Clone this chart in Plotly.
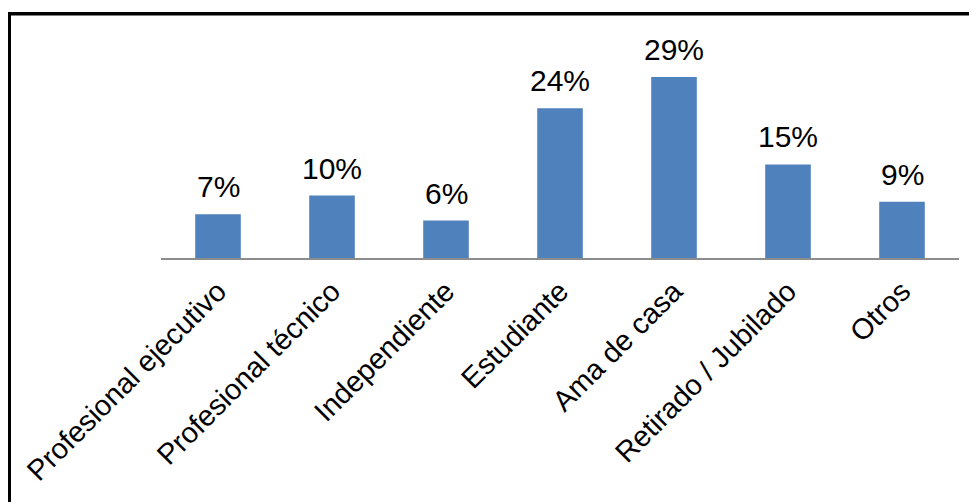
import plotly.graph_objects as go

categories = ["Profesional ejecutivo", "Profesional técnico", "Independiente",
              "Estudiante", "Ama de casa", "Retirado / Jubilado", "Otros"]
values = [7, 10, 6, 24, 29, 15, 9]
labels = ["7%", "10%", "6%", "24%", "29%", "15%", "9%"]

# the page has an 8px body margin, so the figure sits at (8, 8) in the window
W, H = 969, 494
L, R, T, B = 153, 951, 32, 250
pw, ph = R - L, B - T

def px(x):
    return (x - L) / pw

def py(y):
    return (B - y) / ph

FONT = "Arial, Liberation Sans, sans-serif"

fig = go.Figure()
fig.add_trace(go.Bar(
    x=categories, y=values,
    marker=dict(color="#4F81BD", line=dict(width=0)),
))

for c, v, t in zip(categories, values, labels):
    fig.add_annotation(x=c, y=v, text=t, showarrow=False, yanchor="bottom",
                       yshift=9, font=dict(family=FONT, size=30, color="#000000"))

# outer border (left and top)
fig.add_shape(type="rect", xref="paper", yref="paper",
              x0=px(-3), x1=px(3), y0=py(510), y1=py(4),
              fillcolor="#000000", line=dict(width=0), layer="above")
fig.add_shape(type="rect", xref="paper", yref="paper",
              x0=px(-3), x1=px(980), y0=py(7.5), y1=py(4),
              fillcolor="#000000", line=dict(width=0), layer="above")

fig.update_layout(
    width=W, height=H,
    margin=dict(l=L, r=W - R, t=T, b=H - B, pad=0),
    paper_bgcolor="#FFFFFF", plot_bgcolor="#FFFFFF",
    bargap=0.6, showlegend=False,
    font=dict(family=FONT, size=30, color="#000000"),
    xaxis=dict(showline=True, linecolor="#8C8C8C", linewidth=1.5,
               ticks="", tickangle=-45, ticklabelstandoff=3,
               tickfont=dict(family=FONT, size=29, color="#000000"),
               showgrid=False, zeroline=False),
    yaxis=dict(range=[0, ph / 6.24], visible=False, showgrid=False, zeroline=False),
)

fig.write_html("out.html")
